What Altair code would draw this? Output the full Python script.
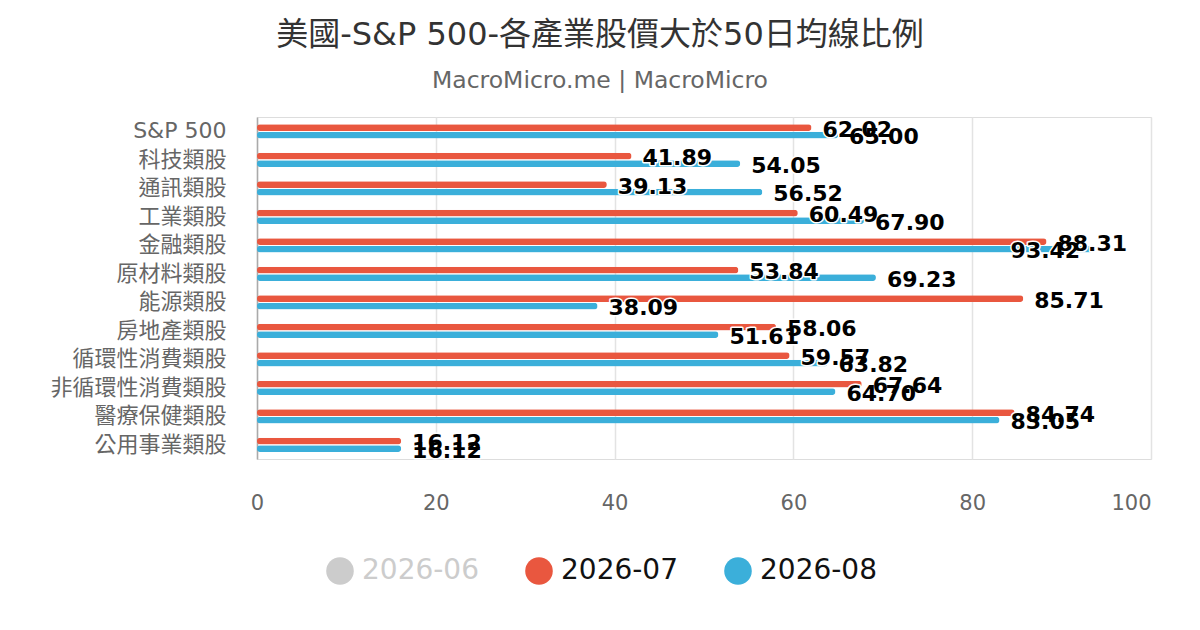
import altair as alt
import pandas as pd

# sectors, top to bottom
sectors = [
    "S&P 500", "科技類股", "通訊類股", "工業類股", "金融類股", "原材料類股",
    "能源類股", "房地產類股", "循環性消費類股", "非循環性消費類股", "醫療保健類股", "公用事業類股",
]
jul = [62.02, 41.89, 39.13, 60.49, 88.31, 53.84, 85.71, 58.06, 59.57, 67.64, 84.74, 16.12]
aug = [65.00, 54.05, 56.52, 67.90, 93.42, 69.23, 38.09, 51.61, 63.82, 64.70, 83.05, 16.12]

months = ["2026-06", "2026-07", "2026-08"]
colors = ["#cccccc", "#e9573f", "#3bafda"]
x_ticks = [0, 20, 40, 60, 80, 100]

rows = []
for s, a, b in zip(sectors, jul, aug):
    rows.append({"sector": s, "month": "2026-07", "value": a})
    rows.append({"sector": s, "month": "2026-08", "value": b})
df = pd.DataFrame(rows)

FONT = "DejaVu Sans, Noto Sans CJK TC"

y_enc = alt.Y("sector:N").sort(sectors).title(None).scale(
    paddingInner=0.5, paddingOuter=0.25
).axis(
    labelFont=FONT, labelFontSize=22, labelColor="#666666", labelPadding=31,
    ticks=False, domainColor="#aaaaaa", domainWidth=1.5, grid=False,
)
x_enc = alt.X("value:Q").title(None).scale(domain=[0, 100], nice=False).axis(
    values=x_ticks, domain=False, ticks=False, labelPadding=33,
    labelFont="DejaVu Sans", labelFontSize=21, labelColor="#666666",
    labelAlign={"condition": {"test": "datum.value == 100", "value": "right"}, "value": "center"},
    gridColor="#e3e3e3", gridWidth=1.5,
)
yoff = alt.YOffset("month:N").scale(domain=["2026-07", "2026-08"], paddingInner=0.1)

base = alt.Chart(df)

# Grouped bars
bars = base.mark_bar(cornerRadius=3).encode(
    x=x_enc,
    y=y_enc,
    yOffset=yoff,
    color=alt.Color("month:N").scale(domain=months, range=colors).legend(
        title=None, orient="none", legendX=69, legendY=440, direction="horizontal",
        symbolType="circle", symbolSize=760, symbolStrokeWidth=0, symbolOpacity=1,
        labelFont="DejaVu Sans", labelFontSize=28, columnPadding=46, labelOffset=8,
        labelColor=alt.ExprRef("datum.label == '2026-06' ? '#cccccc' : '#111111'"),
    ),
)

# Value labels: outside the bar end, or inside when they'd overflow
def labels(filt, align, dx, halo):
    style = dict(align=align, dx=dx, dy=2, baseline="middle", fontSize=22,
                 fontWeight="bold", font="DejaVu Sans")
    if halo:
        mark = base.mark_text(fill="white", stroke="white", strokeWidth=3,
                              strokeJoin="round", **style)
    else:
        mark = base.mark_text(fill="black", **style)
    return mark.encode(
        x="value:Q", y=alt.Y("sector:N").sort(sectors), yOffset=yoff,
        text=alt.Text("value:Q", format=".2f"),
    ).transform_filter(filt)

outside = alt.datum.value < 90
inside = alt.datum.value >= 90

chart = alt.layer(
    bars,
    labels(outside, "left", 11, True),
    labels(inside, "right", -12, True),
    labels(outside, "left", 11, False),
    labels(inside, "right", -12, False),
).properties(
    width=894,
    height=342,
    autosize=alt.AutoSizeParams(type="none"),
    padding={"left": 249, "top": 109, "right": 41, "bottom": 163},
    title=alt.Title(
        "美國-S&P 500-各產業股價大於50日均線比例",
        subtitle="MacroMicro.me | MacroMicro",
        anchor="middle", dx=-104, offset=24, subtitlePadding=17,
        font=FONT, fontSize=32, fontWeight="normal", color="#333333",
        subtitleFont="DejaVu Sans", subtitleFontSize=23.5, subtitleColor="#666666",
    ),
).configure_view(stroke=None).configure(background="white")

chart.save("out.html", embed_options={"renderer": "svg", "actions": False})
